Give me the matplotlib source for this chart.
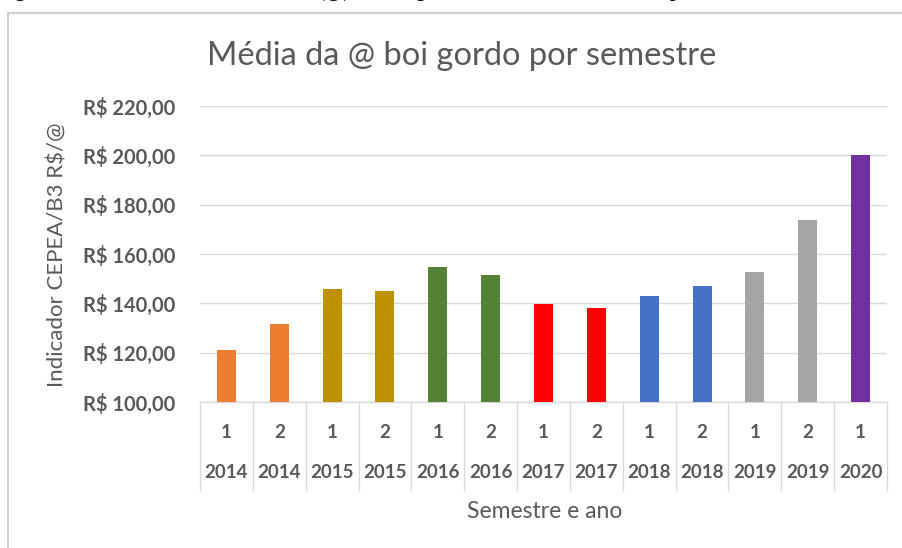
import matplotlib
matplotlib.use("Agg")
import matplotlib.pyplot as plt
from matplotlib.lines import Line2D
import matplotlib.transforms as mtransforms

# ---- data ----
semesters = ["1", "2", "1", "2", "1", "2", "1", "2", "1", "2", "1", "2", "1"]
years = ["2014", "2014", "2015", "2015", "2016", "2016", "2017", "2017",
         "2018", "2018", "2019", "2019", "2020"]
values = [121.0, 131.8, 145.9, 144.8, 154.7, 151.3, 139.7, 138.0,
          143.0, 147.0, 152.7, 173.8, 200.1]
bar_colors = ["#ED7D31", "#ED7D31", "#BF9000", "#BF9000", "#548235", "#548235",
              "#FF0000", "#FF0000", "#4472C4", "#4472C4", "#A5A5A5", "#A5A5A5",
              "#7030A0"]
yticks = [100, 120, 140, 160, 180, 200, 220]
ytick_labels = ["R$ 100,00", "R$ 120,00", "R$ 140,00", "R$ 160,00",
                "R$ 180,00", "R$ 200,00", "R$ 220,00"]
title = "Média da @ boi gordo por semestre"
ylabel = "Indicador CEPEA/B3 R$/@"
xlabel = "Semestre e ano"
caption = "Figura 3 – Média do indicador, em R$ (@), do boi gordo no Estado de São Paulo por semestre"

W, H = 902, 548
fig = plt.figure(figsize=(W / 100, H / 100), dpi=100)
fig.patch.set_facecolor("white")

FONT = ["Lato", "DejaVu Sans"]
GRAY = "#595959"
GRID = "#D9D9D9"

def fx(px):
    return px / W

def fy(py):
    return 1 - py / H

# chart outer border (left and top visible)
fig.add_artist(Line2D([fx(8), fx(8), fx(902)], [fy(548), fy(13), fy(13)],
                      color="#D0D0D0", lw=1.6, transform=fig.transFigure))

# caption above the chart, cut by the top edge (only descenders visible)
fig.text(fx(-2), fy(-3), caption,
         family=["Liberation Serif"], weight="bold", fontsize=14, color="black",
         ha="left", va="baseline")

left, right, bottom, top = 200, 887, 402, 106
ax = fig.add_axes([fx(left), fy(bottom), fx(right) - fx(left), fy(top) - fy(bottom)])
n = len(values)
x = list(range(n))
ax.bar(x, values, width=0.36, color=bar_colors, zorder=3)
ax.set_xlim(-0.5, n - 0.5)
ax.set_ylim(100, 220)
ax.set_yticks(yticks)
ax.set_yticklabels(ytick_labels, family=FONT, weight="bold", fontsize=14.5, color=GRAY)
ax.tick_params(axis="y", length=0, pad=18)
ax.set_xticks([])
ax.grid(axis="y", color=GRID, lw=1, zorder=0)
for s in ["top", "right", "left"]:
    ax.spines[s].set_visible(False)
ax.spines["bottom"].set_color(GRID)
ax.spines["bottom"].set_linewidth(1)

trans = mtransforms.blended_transform_factory(ax.transData, ax.transAxes)
axh = bottom - top
def ay(py):
    return (bottom - py) / axh

for b in [i - 0.5 for i in range(n + 1)]:
    ax.add_line(Line2D([b, b], [0, ay(490)], color=GRID, lw=1,
                       transform=trans, clip_on=False))
for i in range(n):
    ax.text(i, ay(432), semesters[i], transform=trans, ha="center", va="center",
            family=FONT, weight="bold", fontsize=13.5, color=GRAY)
    ax.text(i, ay(472), years[i], transform=trans, ha="center", va="center",
            family=FONT, weight="bold", fontsize=13.5, color=GRAY)

fig.text(fx(545), fy(511), xlabel, ha="center", va="center",
         family=FONT, fontsize=16.5, color=GRAY)
fig.text(fx(58), fy(255), ylabel, ha="center", va="center", rotation=90,
         family=FONT, fontsize=16, color=GRAY)
fig.text(fx(462), fy(56), title, ha="center", va="center",
         family=FONT, fontsize=23.5, color=GRAY)

fig.savefig("out.png", dpi=100, facecolor="white")
